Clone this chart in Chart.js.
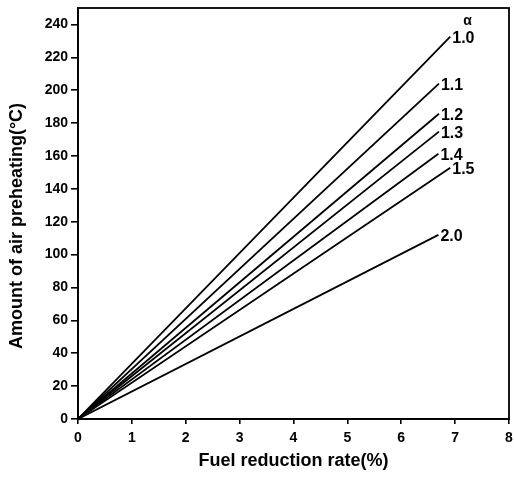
<!DOCTYPE html>
<html>
<head>
<meta charset="utf-8">
<script src="https://cdn.jsdelivr.net/npm/chart.js@4/dist/chart.umd.min.js"></script>
<style>
html,body{margin:0;padding:0;background:#fff;}
#wrap{width:514px;height:478px;}
</style>
</head>
<body>
<div id="wrap"><canvas id="c" width="514" height="478"></canvas></div>
<script>
const alphaLabels = ["1.0","1.1","1.2","1.3","1.4","1.5","2.0"];
const endX = [6.91, 6.70, 6.70, 6.70, 6.69, 6.91, 6.69];
const endY = [232.6, 204, 185.7, 174.8, 161.4, 152.9, 112];
const xTicks = [0,1,2,3,4,5,6,7,8];
const yTicks = [0,20,40,60,80,100,120,140,160,180,200,220,240];
const xTitle = 'Fuel reduction rate(%)';
const yTitle = 'Amount of air preheating(°C)';

const datasets = alphaLabels.map((a, i) => ({
  label: a,
  data: [{x:0,y:0},{x:endX[i],y:endY[i]}],
  borderColor: '#000',
  borderWidth: 1.8,
  pointRadius: 0,
  tension: 0,
  fill: false
}));

const labelPlugin = {
  id: 'lbl',
  afterDatasetsDraw(chart) {
    const ctx = chart.ctx;
    const xs = chart.scales.x, ys = chart.scales.y;
    ctx.save();
    ctx.fillStyle = '#000';
    ctx.font = 'bold 16px "Liberation Sans", Arial, sans-serif';
    ctx.textBaseline = 'middle';
    ctx.textAlign = 'left';
    alphaLabels.forEach((a, i) => {
      const px = xs.getPixelForValue(endX[i]);
      const py = ys.getPixelForValue(endY[i]);
      ctx.fillText(a, px + 2, py + 2);
    });
    const px0 = xs.getPixelForValue(endX[0]);
    const py0 = ys.getPixelForValue(endY[0]);
    ctx.font = 'bold 14px "Liberation Sans", Arial, sans-serif';
    ctx.fillText('α', px0 + 13, py0 - 15);
    // y-axis title
    ctx.font = 'bold 18px "Liberation Sans", Arial, sans-serif';
    ctx.textAlign = 'center';
    ctx.translate(17, ys.getPixelForValue(0) - 193);
    ctx.rotate(-Math.PI / 2);
    ctx.fillText(yTitle, 0, 0);
    ctx.restore();
  }
};

const boxPlugin = {
  id: 'box',
  afterDraw(chart) {
    const a = chart.chartArea, ctx = chart.ctx;
    ctx.save();
    ctx.strokeStyle = '#000';
    ctx.lineWidth = 1.8;
    ctx.strokeRect(a.left, a.top, a.right - a.left, a.bottom - a.top);
    ctx.restore();
  }
};

const tickFont = {family: '"Liberation Sans", Arial, sans-serif', size: 14, weight: 'bold'};
const titleFont = {family: '"Liberation Sans", Arial, sans-serif', size: 18, weight: 'bold'};

new Chart(document.getElementById('c'), {
  type: 'line',
  data: { datasets },
  options: {
    responsive: false,
    animation: false,
    devicePixelRatio: 1,
    layout: { padding: { top: 8, right: 5, left: 0, bottom: 0 } },
    plugins: { legend: { display: false }, tooltip: { enabled: false } },
    scales: {
      x: {
        type: 'linear',
        min: 0, max: 8,
        afterBuildTicks(s) { s.ticks = xTicks.map(v => ({value: v})); },
        afterFit(s) { s.height = 59; s.paddingRight = 0; s.paddingLeft = 0; },
        grid: { drawOnChartArea: false, color: '#000', tickLength: 5, lineWidth: 1.6 },
        border: { color: '#000', width: 1.8 },
        ticks: { color: '#000', font: tickFont, padding: 6 },
        title: { display: true, text: xTitle, color: '#000', font: titleFont, padding: { top: 0, bottom: 6 } }
      },
      y: {
        type: 'linear',
        min: 0, max: 250,
        afterBuildTicks(s) { s.ticks = yTicks.map(v => ({value: v})); },
        afterFit(s) { s.width = 78; s.paddingTop = 0; s.paddingBottom = 0; },
        grid: { drawOnChartArea: false, color: '#000', tickLength: 7, lineWidth: 1.6 },
        border: { color: '#000', width: 1.8 },
        ticks: { color: '#000', font: tickFont, padding: 3 },
        title: { display: false }
      }
    }
  },
  plugins: [labelPlugin, boxPlugin]
});
</script>
</body>
</html>
